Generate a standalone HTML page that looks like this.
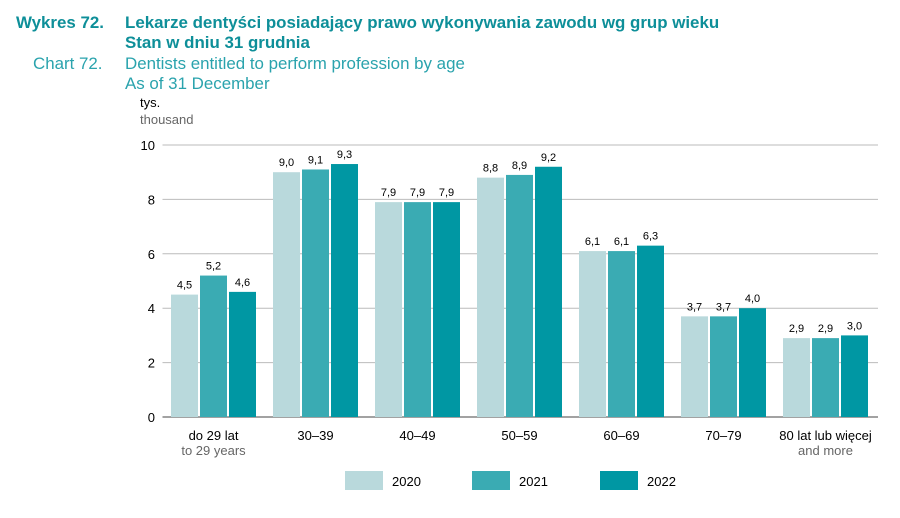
<!DOCTYPE html>
<html><head><meta charset="utf-8"><style>
body{margin:0;background:#fff;font-family:"Liberation Sans",sans-serif}
svg text{font-family:"Liberation Sans",sans-serif}
</style></head><body>
<svg width="900" height="513" viewBox="0 0 900 513" xmlns="http://www.w3.org/2000/svg">
<g>
<text x="16" y="28" font-size="16.9" font-weight="bold" fill="#0e8f99">Wykres 72.</text>
<text x="125" y="28" font-size="16.9" font-weight="bold" fill="#0e8f99">Lekarze dentyści posiadający prawo wykonywania zawodu wg grup wieku</text>
<text x="125" y="48" font-size="16.9" font-weight="bold" fill="#0e8f99">Stan w dniu 31 grudnia</text>
<text x="33" y="69" font-size="16.9" fill="#2aa3ad">Chart 72.</text>
<text x="125" y="69" font-size="16.9" fill="#2aa3ad">Dentists entitled to perform profession by age</text>
<text x="125" y="89" font-size="16.9" fill="#2aa3ad">As of 31 December</text>
</g>
<text x="140" y="107" font-size="13" fill="#000">tys.</text>
<text x="140" y="124" font-size="13" fill="#666">thousand</text>
<g id="grid"></g>
<g id="bars"></g>
<g id="xlabels"></g>
<g id="legend"></g>
</svg>
<script>
const categories = ["do 29 lat","30–39","40–49","50–59","60–69","70–79","80 lat lub więcej"];
const categoriesEn = ["to 29 years","","","","","","and more"];
const series2020 = [4.5,9.0,7.9,8.8,6.1,3.7,2.9];
const series2021 = [5.2,9.1,7.9,8.9,6.1,3.7,2.9];
const series2022 = [4.6,9.3,7.9,9.2,6.3,4.0,3.0];
const seriesNames = ["2020","2021","2022"];
const yTicks = [0,2,4,6,8,10];

const NS="http://www.w3.org/2000/svg";
const colors=["#b9d9dc","#3aabb3","#0097a3"];
const x0=162.5,x1=876.5,yBase=417,yTop=145,yMax=10;
const band=(x1-x0)/categories.length;
const y=v=>yBase-(v/yMax)*(yBase-yTop);
const xc=i=>x0+band*(i+0.5);
function mk(tag,attrs,parent,txt){const e=document.createElementNS(NS,tag);for(const k in attrs)e.setAttribute(k,attrs[k]);if(txt!==undefined)e.textContent=txt;parent.appendChild(e);return e;}
const grid=document.getElementById('grid');
yTicks.forEach(t=>{
  const l=mk('line',{x1:x0,x2:878,y1:y(t),y2:y(t),stroke:t===0?'#444':'#bbb','stroke-width':1},grid);
  
  
  const tx=mk('text',{x:155,y:y(t)+5,'font-size':13,'text-anchor':'end',fill:'#000'},grid,String(t));
  
  
});
const bars=document.getElementById('bars');
const all=[series2020,series2021,series2022];
const bw=27,gap=2;
categories.forEach((c,i)=>{
  all.forEach((s,j)=>{
    const bx=xc(i)-(3*bw+2*gap)/2+j*(bw+gap);
    const r=mk('rect',{x:bx,y:y(s[i]),width:bw,height:yBase-y(s[i]),fill:colors[j]},bars);
    
    
    const t=mk('text',{x:bx+bw/2,y:y(s[i])-6,'font-size':11,'text-anchor':'middle',fill:'#000'},bars,s[i].toFixed(1).replace('.',','));
    
    
  });
  const xl=document.getElementById('xlabels');
  const t=mk('text',{x:xc(i),y:440,'font-size':13,'text-anchor':'middle',fill:'#000'},xl,c);
  
  
  if(categoriesEn[i]){
    const t2=mk('text',{x:xc(i),y:455,'font-size':13,'text-anchor':'middle',fill:'#666'},xl,categoriesEn[i]);
    
    
  }
});
const lg=document.getElementById('legend');
[345,472,600].forEach((lx,j)=>{
  const r=mk('rect',{x:lx,y:471,width:38,height:19,fill:colors[j]},lg);
  
  
  const t=mk('text',{x:lx+47,y:486,'font-size':13,fill:'#000'},lg,seriesNames[j]);
  
  
});
</script>
</body></html>
